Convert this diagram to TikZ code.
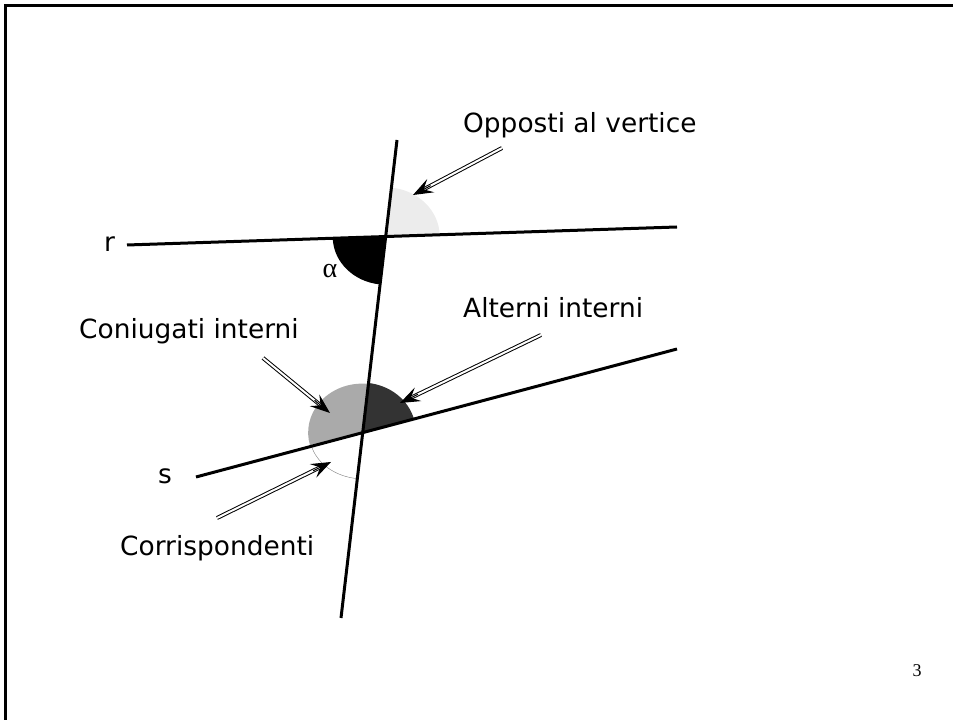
\documentclass[tikz,border=0pt]{standalone}
\usepackage{fontspec}
\setmainfont{DejaVu Sans}
\newfontfamily\serifnum{Liberation Serif}
\usetikzlibrary{arrows.meta,intersections,calc}
\definecolor{lightsec}{HTML}{ECECEC}
\definecolor{darksec}{HTML}{333333}
\definecolor{midsec}{HTML}{AAAAAA}
\tikzset{
  mainline/.style={line width=3pt},
  framebar/.style={line width=3pt},
  dblshaft/.style={double, double distance=2pt, line width=1pt, shorten >=8pt},
  dbltip/.style={line width=1pt, -{Stealth[length=20pt,width=15pt,inset=8pt]}},
  lbl/.style={font=\fontsize{26.4}{29}\selectfont, inner sep=0pt, anchor=base west},
}
\begin{document}
\begin{tikzpicture}[x=1pt,y=1pt]
\useasboundingbox (0,0) rectangle (953,720);
% frame (only top and left visible)
\draw[framebar] (5.5,-10) -- (5.5,714.5) -- (970,714.5);
% lines
\path[name path=tline] (397,580) -- (341,102);
\path[name path=rline] (127,475) -- (677,493);
\path[name path=sline] (196,243) -- (677,371);
\path[name intersections={of=tline and rline, by=P}];
\path[name intersections={of=tline and sline, by=Q}];
% sectors at P
\fill[lightsec] (P) -- ++(1.9:54) arc[start angle=1.9, end angle=83.3, x radius=54, y radius=49] -- cycle;
\fill[black] (P) -- ++(181.9:53) arc[start angle=181.9, end angle=263.3, x radius=53, y radius=48] -- cycle;
% sectors at Q
\fill[darksec] (Q) -- ++(14.9:53) arc[start angle=14.9, end angle=83.3, x radius=54, y radius=49] -- cycle;
\fill[midsec] (Q) -- ++(83.3:49) arc[start angle=83.3, end angle=194.9, x radius=54, y radius=49] -- cycle;
\draw[gray, line width=0.4pt] (Q) -- ++(194.9:53) arc[start angle=194.9, end angle=263.3, x radius=54, y radius=44] -- cycle;
% main lines
\coordinate (t1) at (397,580); \coordinate (t2) at (341,102);
\coordinate (r1) at (127,475); \coordinate (r2) at (677,493);
\coordinate (s1) at (196,243); \coordinate (s2) at (677,371);
\draw[mainline] (t1) -- (t2);
\draw[mainline] (r1) -- (r2);
\draw[mainline] (s1) -- (s2);
% labels
\node[lbl] (lr) at (104,468) {r};
\node[lbl] (ls) at (158,236) {s};
\node[font=\serifnum\fontsize{28}{30}\selectfont, inner sep=0pt] (la) at (330,449) {α};
\node[lbl] (opp) at (463,587) {Opposti al vertice};
\node[lbl] (alt) at (463,402) {Alterni interni};
\node[lbl] (con) at (79,381) {Coniugati interni};
\node[lbl] (cor) at (120,164) {Corrispondenti};
\node[font=\serifnum\fontsize{18}{20}\selectfont, inner sep=0pt] (num) at (917,49) {3};
% arrows
\coordinate (a1s) at (502,572); \coordinate (a1e) at (413,525);
\coordinate (a2s) at (541,385); \coordinate (a2e) at (400,317);
\coordinate (a3s) at (263,362); \coordinate (a3e) at (330,307);
\coordinate (a4s) at (217,202); \coordinate (a4e) at (331,258);
\foreach \s/\e in {a1s/a1e, a2s/a2e, a3s/a3e, a4s/a4e}{
  \draw[dblshaft] (\s) -- (\e);
  \draw[dbltip] ($(\e)!20pt!(\s)$) -- (\e);
}
\end{tikzpicture}
\end{document}
